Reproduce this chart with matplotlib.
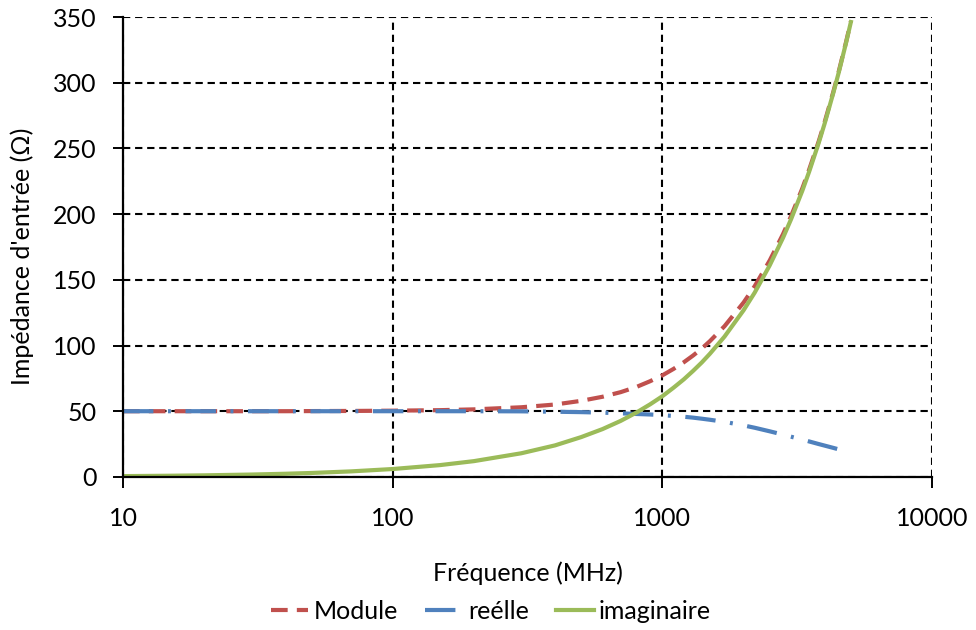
import matplotlib
matplotlib.use("Agg")
import matplotlib.pyplot as plt
from matplotlib.ticker import FixedLocator, FixedFormatter, NullLocator

plt.rcParams['font.family'] = ['Lato', 'DejaVu Sans']

freq = [10, 15, 20, 30, 40, 50, 70, 100, 150, 200, 300, 400, 500, 600, 700, 800, 900,
        1000, 1100, 1200, 1300, 1400, 1500, 1700, 2000, 2200, 2500, 2800, 3000, 3300,
        3500, 3800, 4000, 4300, 4500, 4800, 5000]
module = [50, 50, 50, 50, 50, 50.1, 50.2, 50.4, 50.8, 51.4, 53.0, 55.1, 57.9, 61.0, 64.5, 68.4, 72.8,
          77.3, 82.2, 87.2, 92.4, 97.7, 103.3, 114.7, 132.7, 145.2, 164.7, 184.7, 198.5, 219.4,
          233.8, 255.5, 270.3, 292.8, 307.9, 331.1, 346.7]
reelle = [50, 50, 50, 50, 50, 50, 50, 50, 50, 50, 49.9, 49.6, 49.3, 48.9, 48.4, 47.9, 47.5,
          47.0, 46.4, 45.8, 45.1, 44.3, 43.5, 41.9, 39.2, 37.4, 34.7, 32.2, 30.6, 28.4,
          27.0, 25.0, 23.8, 22.1, 21.0, 19.8, 19.3]
imaginaire = [0.6, 0.9, 1.2, 1.8, 2.4, 3.0, 4.2, 6.0, 9.0, 12.0, 18.0, 24.0, 30.3, 36.4, 42.6, 48.9, 55.2,
              61.4, 67.9, 74.2, 80.7, 87.1, 93.7, 106.8, 126.8, 140.3, 161.0, 181.9, 196.1, 217.6,
              232.2, 254.3, 269.2, 292.0, 307.2, 330.5, 346.2]

xticks = [10, 100, 1000, 10000]
xticklabels = ["10", "100", "1000", "10000"]
yticks = [0, 50, 100, 150, 200, 250, 300, 350]

fig = plt.figure(figsize=(9.76, 6.30), dpi=100)
ax = fig.add_axes([0.126, 0.243, 0.829, 0.730])

lw = 3.0
ax.plot(freq, module, color='#C0504D', lw=lw, dashes=(4.0, 2.2), label='Module')
ax.plot(freq, reelle, color='#4F81BD', lw=lw, dashes=(7.3, 3.5, 0.7, 3.5), label='reélle')
ax.plot(freq, imaginaire, color='#9BBB59', lw=lw, label='imaginaire')

ax.set_xscale('log')
ax.set_xlim(10, 10000)
ax.set_ylim(0, 350)
ax.xaxis.set_major_locator(FixedLocator(xticks))
ax.xaxis.set_major_formatter(FixedFormatter(xticklabels))
ax.xaxis.set_minor_locator(NullLocator())
ax.set_yticks(yticks)

ax.grid(True, which='major', color='black', lw=1.5, linestyle=(0, (3.5, 2.3)))
ax.set_axisbelow(True)
for s in ['top', 'right']:
    ax.spines[s].set_visible(False)
for s in ['left', 'bottom']:
    ax.spines[s].set_linewidth(1.6)
    ax.spines[s].set_color('black')

ax.tick_params(axis='both', labelsize=18, width=1.4, direction='out', colors='black')
ax.tick_params(axis='x', length=8, pad=14)
ax.tick_params(axis='y', length=7, pad=12)

ax.set_xlabel('Fréquence (MHz)', fontsize=18, va='center')
ax.xaxis.set_label_coords(0.5, -0.209)
ax.set_ylabel("Impédance d'entrée (Ω)", fontsize=18, va='center')
ax.yaxis.set_label_coords(-0.125, 0.48)

fig.legend(loc='center', bbox_to_anchor=(0.503, 0.029), ncol=3, frameon=False,
           fontsize=18, handlelength=1.5, columnspacing=1.1, handletextpad=0.2,
           borderaxespad=0, borderpad=0)

fig.savefig('out.png', dpi=100)
